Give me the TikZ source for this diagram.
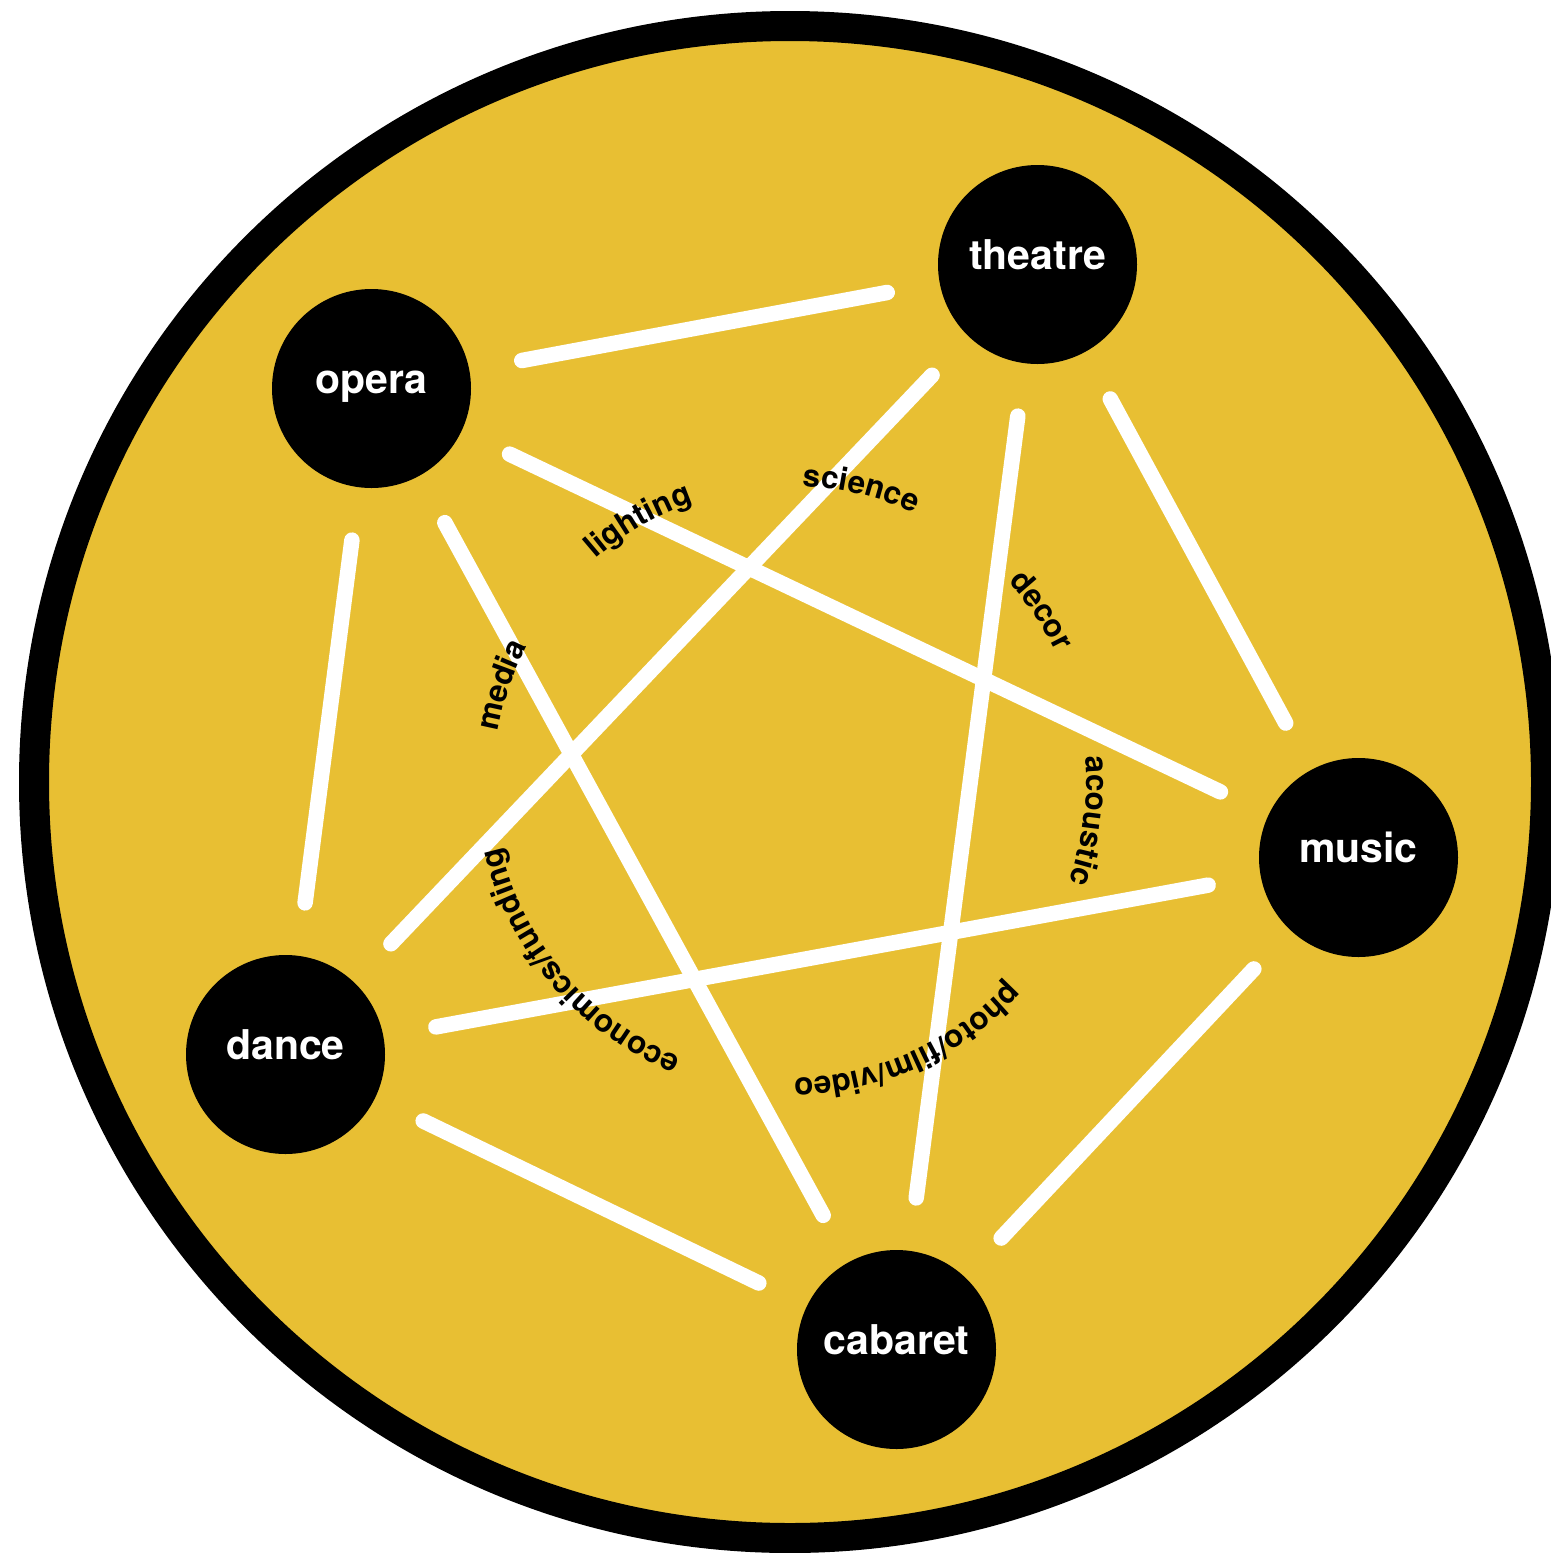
\documentclass[tikz,border=0pt]{standalone}
\usepackage{fontspec}
\setmainfont{TeX Gyre Heros}
\usetikzlibrary{decorations.text}
\definecolor{gold}{RGB}{232,191,51}
\newcommand{\nodefont}{\bfseries\fontsize{20.5}{24}\selectfont}
\newcommand{\lblfont}{\bfseries\fontsize{15.7}{18}\selectfont}
\begin{document}
\begin{tikzpicture}[x=0.5pt,y=-0.5pt,
  art/.style={circle, fill=black, text=white, inner sep=0pt, minimum size=99.5pt,
    font=\nodefont, text height=10pt, text depth=5.5pt},
  link/.style={draw=white, line width=7.75pt, line cap=round, shorten <=26.5pt, shorten >=26.5pt},
  arclabel/.style={decorate, decoration={text along path, text align=center, text={|\lblfont|#1}}}
]
\clip (0,0) rectangle (1551,1553);
\coordinate (C) at (790,782);
\fill[gold] (C) circle[radius=756];
\draw[line width=15pt] (C) circle[radius=756];

\node[art] (theatre) at (1037.5,264.5) {theatre};
\node[art] (opera)   at (371.5,388.5)  {opera};
\node[art] (music)   at (1358.5,857.5) {music};
\node[art] (dance)   at (285.5,1054.5) {dance};
\node[art] (cabaret) at (896.5,1349.5) {cabaret};

\draw[link] (opera) -- (theatre);
\draw[link] (theatre) -- (dance);
\draw[link] (theatre) -- (cabaret);
\draw[link] (theatre) -- (music);
\draw[link] (opera) -- (music);
\draw[link] (opera) -- (dance);
\draw[link] (opera) -- (cabaret);
\draw[link] (music) -- (dance);
\draw[link] (music) -- (cabaret);
\draw[link] (dance) -- (cabaret);

\path[arclabel={lighting}] (C) ++(-180.1:296) arc[start angle=-180.1, end angle=-60.1, radius=296];
\path[arclabel={science}] (C) ++(-136.4:296) arc[start angle=-136.4, end angle=-16.4, radius=296];
\path[arclabel={decor}] (C) ++(-94.3:296) arc[start angle=-94.3, end angle=25.7, radius=296];
\path[arclabel={acoustic}] (C) ++(-52.6:296) arc[start angle=-52.6, end angle=67.4, radius=296];
\path[arclabel={photo/film/video}] (C) ++(5.8:296) arc[start angle=5.8, end angle=125.8, radius=296];
\path[arclabel={economics/funding}] (C) ++(79.5:296) arc[start angle=79.5, end angle=199.5, radius=296];
\path[arclabel={media}] (C) ++(138.5:296) arc[start angle=138.5, end angle=258.5, radius=296];
\end{tikzpicture}
\end{document}
